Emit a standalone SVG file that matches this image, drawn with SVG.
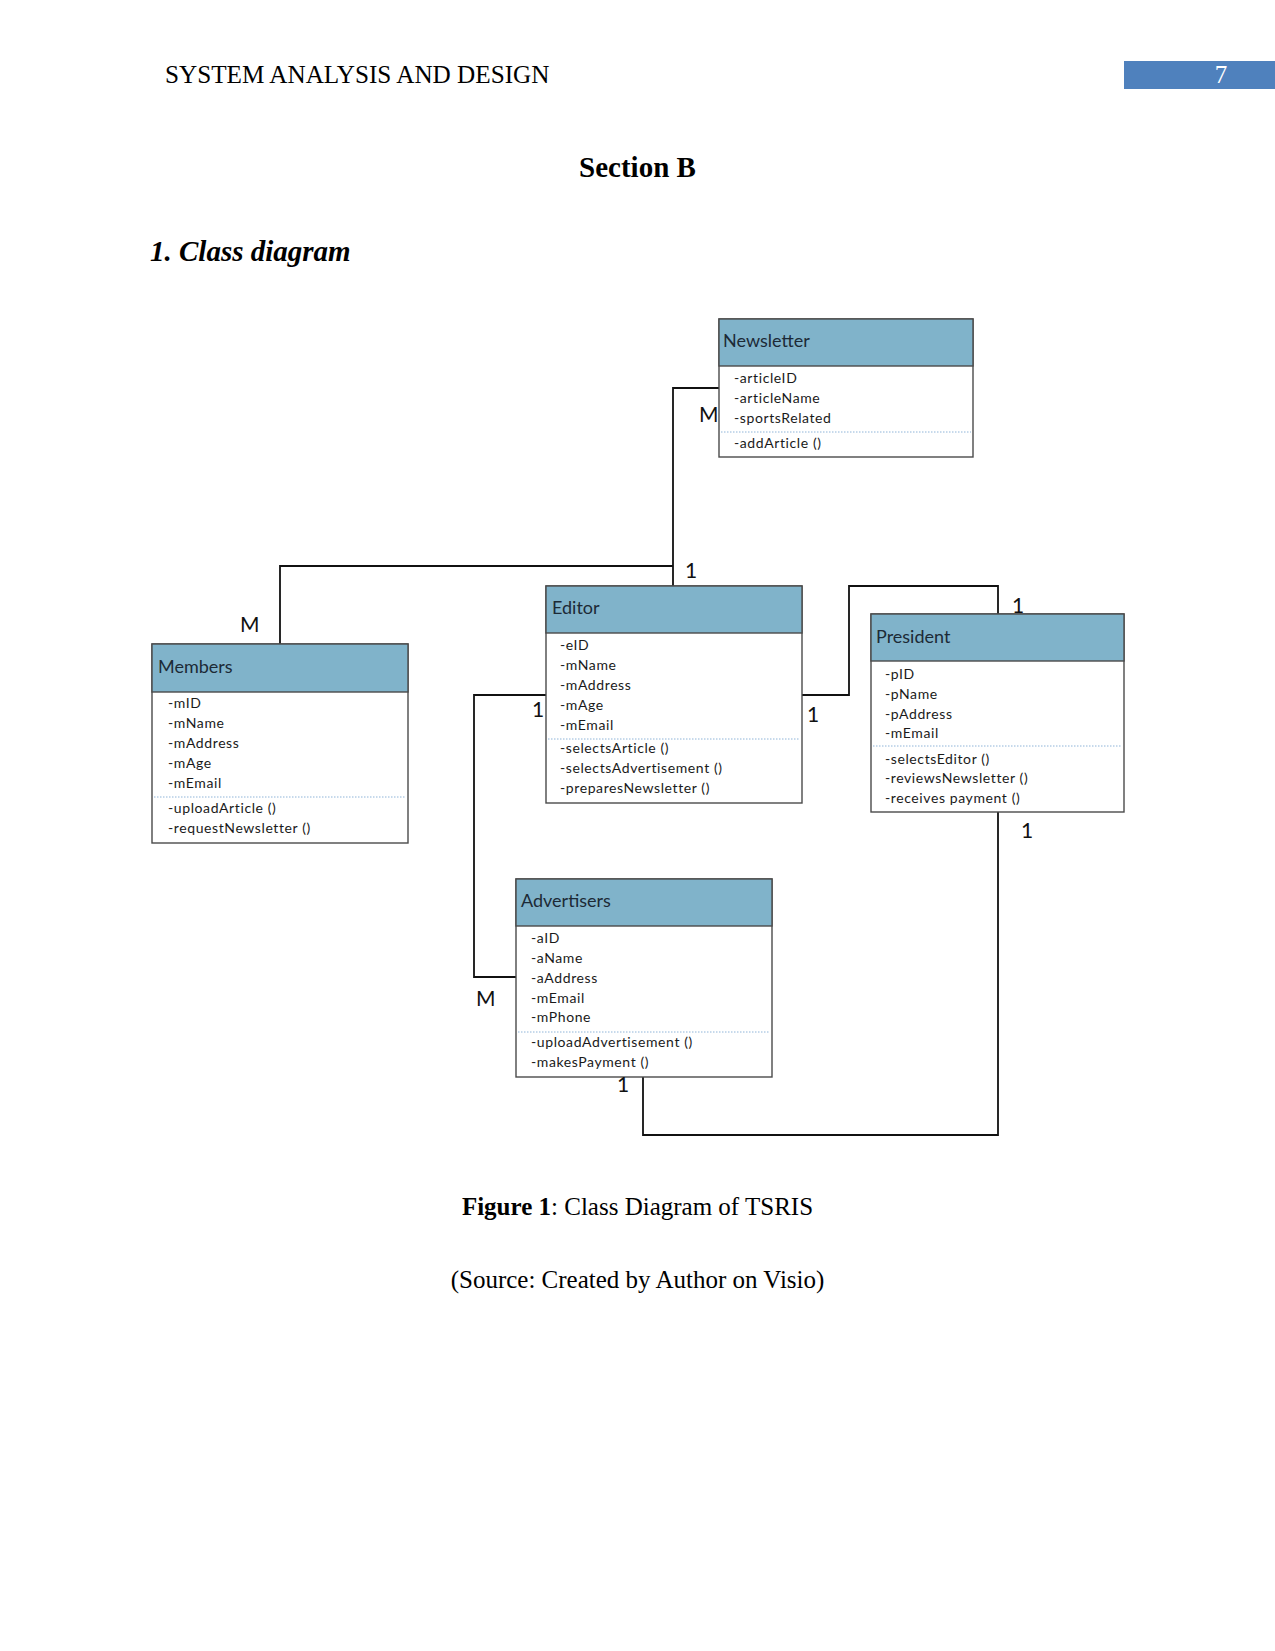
<svg xmlns="http://www.w3.org/2000/svg" width="1275" height="1651" viewBox="0 0 1275 1651">
<style>
.page{font-family:"Liberation Serif","Times New Roman",serif;fill:#000}
.box{fill:#fff;stroke:#4a4a4a;stroke-width:1.4}
.hdr{fill:#80b3ca;stroke:#4a4a4a;stroke-width:1.4}
.sep{stroke:#8fb4d8;stroke-width:1;stroke-dasharray:1.5 1.5}
.title{font-family:Lato,"Noto Sans",sans-serif;font-size:18px;fill:#1c2a36}
.attr{font-family:Lato,"Noto Sans",sans-serif;font-size:14px;letter-spacing:0.6px;fill:#1a1a1a}
.mult{font-family:Lato,"Noto Sans",sans-serif;font-size:21px;fill:#111}
.conn{fill:none;stroke:#111;stroke-width:1.8}
</style>
<rect width="1275" height="1651" fill="#fff"/>
<text class="page" x="165" y="83" font-size="25.2">SYSTEM ANALYSIS AND DESIGN</text>
<rect x="1124" y="61" width="151" height="28" fill="#4f81bd"/>
<text class="page" x="1221" y="83" font-size="25" style="fill:#fff" text-anchor="middle">7</text>
<text class="page" x="637.5" y="177" font-size="29" font-weight="bold" text-anchor="middle">Section B</text>
<text class="page" x="150" y="261" font-size="29" font-weight="bold" font-style="italic">1. Class diagram</text>

<g id="connectors">
<path class="conn" d="M719,388 H673 V586"/>
<path class="conn" d="M280,644 V566 H673"/>
<path class="conn" d="M546,695 H474 V977 H516"/>
<path class="conn" d="M802,695 H849 V586 H998 V614"/>
<path class="conn" d="M643,1077 V1135 H998 V812"/>
</g>

<g id="newsletter">
<rect class="box" x="719" y="319" width="254" height="138"/>
<rect class="hdr" x="719" y="319" width="254" height="47"/>
<text class="title" x="723" y="347">Newsletter</text>
<text class="attr" x="734" y="383">-articleID</text>
<text class="attr" x="734" y="403">-articleName</text>
<text class="attr" x="734" y="423">-sportsRelated</text>
<line class="sep" x1="721" y1="432" x2="971" y2="432"/>
<text class="attr" x="734" y="448">-addArticle ()</text>
</g>

<g id="members">
<rect class="box" x="152" y="644" width="256" height="199"/>
<rect class="hdr" x="152" y="644" width="256" height="48"/>
<text class="title" x="158" y="673">Members</text>
<text class="attr" x="168" y="708">-mID</text>
<text class="attr" x="168" y="728">-mName</text>
<text class="attr" x="168" y="748">-mAddress</text>
<text class="attr" x="168" y="768">-mAge</text>
<text class="attr" x="168" y="788">-mEmail</text>
<line class="sep" x1="154" y1="797" x2="406" y2="797"/>
<text class="attr" x="168" y="813">-uploadArticle ()</text>
<text class="attr" x="168" y="833">-requestNewsletter ()</text>
</g>

<g id="editor">
<rect class="box" x="546" y="586" width="256" height="217"/>
<rect class="hdr" x="546" y="586" width="256" height="47"/>
<text class="title" x="552" y="614">Editor</text>
<text class="attr" x="560" y="650">-eID</text>
<text class="attr" x="560" y="670">-mName</text>
<text class="attr" x="560" y="690">-mAddress</text>
<text class="attr" x="560" y="710">-mAge</text>
<text class="attr" x="560" y="730">-mEmail</text>
<line class="sep" x1="548" y1="739" x2="800" y2="739"/>
<text class="attr" x="560" y="753">-selectsArticle ()</text>
<text class="attr" x="560" y="773">-selectsAdvertisement ()</text>
<text class="attr" x="560" y="793">-preparesNewsletter ()</text>
</g>

<g id="president">
<rect class="box" x="871" y="614" width="253" height="198"/>
<rect class="hdr" x="871" y="614" width="253" height="47"/>
<text class="title" x="876" y="643">President</text>
<text class="attr" x="885" y="679">-pID</text>
<text class="attr" x="885" y="699">-pName</text>
<text class="attr" x="885" y="719">-pAddress</text>
<text class="attr" x="885" y="738">-mEmail</text>
<line class="sep" x1="873" y1="746" x2="1122" y2="746"/>
<text class="attr" x="885" y="764">-selectsEditor ()</text>
<text class="attr" x="885" y="783">-reviewsNewsletter ()</text>
<text class="attr" x="885" y="803">-receives payment ()</text>
</g>

<g id="advertisers">
<rect class="box" x="516" y="879" width="256" height="198"/>
<rect class="hdr" x="516" y="879" width="256" height="47"/>
<text class="title" x="521" y="907">Advertisers</text>
<text class="attr" x="531" y="943">-aID</text>
<text class="attr" x="531" y="963">-aName</text>
<text class="attr" x="531" y="983">-aAddress</text>
<text class="attr" x="531" y="1003">-mEmail</text>
<text class="attr" x="531" y="1022">-mPhone</text>
<line class="sep" x1="518" y1="1032" x2="770" y2="1032"/>
<text class="attr" x="531" y="1047">-uploadAdvertisement ()</text>
<text class="attr" x="531" y="1067">-makesPayment ()</text>
</g>

<g id="multiplicities">
<text class="mult" x="699" y="422">M</text>
<text class="mult" x="685" y="578">1</text>
<text class="mult" x="240" y="632">M</text>
<text class="mult" x="532" y="717">1</text>
<text class="mult" x="807" y="722">1</text>
<text class="mult" x="1012" y="613">1</text>
<text class="mult" x="1021" y="838">1</text>
<text class="mult" x="476" y="1006">M</text>
<text class="mult" x="617" y="1092">1</text>
</g>

<text class="page" x="637.5" y="1215" font-size="25" text-anchor="middle"><tspan font-weight="bold">Figure 1</tspan>: Class Diagram of TSRIS</text>
<text class="page" x="637.5" y="1288" font-size="25" text-anchor="middle">(Source: Created by Author on Visio)</text>
</svg>
